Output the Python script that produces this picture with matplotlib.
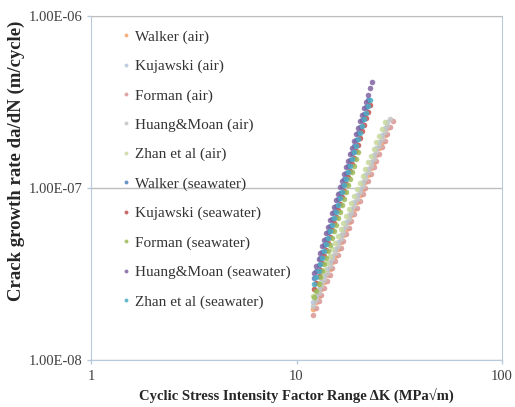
import matplotlib
matplotlib.use("Agg")
import matplotlib.pyplot as plt
from matplotlib.ticker import FixedLocator, NullLocator

plt.rcParams['font.family'] = ['Liberation Serif', 'DejaVu Serif']

#########################################
## STRESS INTENSITY RANGES (MPa sqrt m) ##
#########################################
# steeper band (seawater curves)
kSea = [12.2, 12.5, 12.8, 13.0, 13.3, 13.6, 13.9, 14.3, 14.6, 14.9,
        15.2, 15.6, 15.9, 16.3, 16.7, 17.0, 17.4, 17.8, 18.2, 18.6,
        19.1, 19.5, 19.9, 20.4, 20.8, 21.3, 21.8, 22.3, 22.8, 23.3]
# flatter band (air curves)
kAir = [12.0, 12.4, 12.8, 13.2, 13.6, 14.0, 14.5, 14.9, 15.4, 15.9,
        16.4, 16.9, 17.4, 18.0, 18.5, 19.1, 19.7, 20.3, 21.0, 21.6,
        22.3, 23.0, 23.7, 24.5, 25.2, 26.0, 26.9, 27.7, 28.6, 29.5]

##############################################
## CRACK GROWTH RATES, in units of 1e-8 m/cyc ##
##############################################
walkerAir = [1.98, 2.16, 2.37, 2.59, 2.83, 3.10, 3.39, 3.70, 4.05, 4.43,
             4.85, 5.30, 5.80, 6.34, 6.93, 7.59, 8.31, 9.08, 9.93, 10.86,
             11.88, 12.99, 14.21, 15.54, 17.00, 18.60, 20.34, 22.25]
kujawskiAir = [2.16, 2.36, 2.58, 2.83, 3.09, 3.39, 3.71, 4.05, 4.43, 4.84,
               5.30, 5.79, 6.34, 6.93, 7.58, 8.30, 9.07, 9.92, 10.84, 11.87,
               12.98, 14.20, 15.53, 16.98, 18.57, 20.32, 22.22, 24.31]
formanAir = [1.83, 2.00, 2.19, 2.40, 2.62, 2.87, 3.14, 3.43, 3.75, 4.10,
             4.49, 4.91, 5.37, 5.87, 6.42, 7.03, 7.69, 8.41, 9.19, 10.06,
             11.00, 12.03, 13.16, 14.39, 15.74, 17.22, 18.83, 20.60, 22.53, 24.65]
huangAir = [2.05, 2.24, 2.45, 2.69, 2.93, 3.21, 3.52, 3.84, 4.20, 4.59,
            5.03, 5.50, 6.01, 6.57, 7.19, 7.87, 8.61, 9.42, 10.29, 11.27,
            12.32, 13.47, 14.74, 16.12, 17.63, 19.29, 21.09, 23.07, 25.23]
zhanAir = [2.34, 2.56, 2.80, 3.07, 3.35, 3.67, 4.02, 4.39, 4.80, 5.25,
           5.75, 6.28, 6.87, 7.51, 8.22, 9.00, 9.84, 10.76, 11.76, 12.88,
           14.08, 15.40, 16.84, 18.42, 20.15, 22.04, 24.10]

walkerSea = [2.99, 3.27, 3.57, 3.90, 4.26, 4.65, 5.08, 5.54, 6.05, 6.61,
             7.23, 7.89, 8.61, 9.40, 10.28, 11.22, 12.25, 13.38, 14.61, 15.96,
             17.43, 19.04, 20.79, 22.70, 24.79, 27.07, 29.57, 32.29]
kujawskiSea = [2.58, 2.82, 3.07, 3.35, 3.66, 4.00, 4.37, 4.77, 5.21, 5.69,
               6.22, 6.78, 7.41, 8.09, 8.84, 9.65, 10.54, 11.51, 12.57, 13.73,
               14.99, 16.38, 17.88, 19.53, 21.33, 23.29, 25.44, 27.78, 30.34]
formanSea = [2.32, 2.53, 2.76, 3.02, 3.30, 3.60, 3.93, 4.29, 4.69, 5.12,
             5.59, 6.11, 6.67, 7.28, 7.96, 8.68, 9.48, 10.36, 11.31, 12.36,
             13.49, 14.74, 16.09]
huangSea = [3.22, 3.52, 3.84, 4.19, 4.58, 5.00, 5.46, 5.96, 6.51, 7.11,
            7.77, 8.48, 9.26, 10.11, 11.05, 12.06, 13.17, 14.39, 15.71, 17.16,
            18.74, 20.47, 22.35, 24.41, 26.66, 29.11, 31.80, 34.72, 37.92, 41.42]
zhanSea = [2.77, 3.03, 3.30, 3.60, 3.94, 4.30, 4.70, 5.13, 5.60, 6.11,
           6.68, 7.29, 7.96, 8.69, 9.50, 10.37, 11.33, 12.38, 13.51, 14.76,
           16.12, 17.60, 19.22, 20.99, 22.93, 25.03, 27.35, 29.86, 32.61]

seriesNames = ["Walker (air)", "Kujawski (air)", "Forman (air)", "Huang&Moan (air)",
               "Zhan et al (air)", "Walker (seawater)", "Kujawski (seawater)",
               "Forman (seawater)", "Huang&Moan (seawater)", "Zhan et al (seawater)"]
seriesData = [(kAir, walkerAir), (kAir, kujawskiAir), (kAir, formanAir),
              (kAir, huangAir), (kAir, zhanAir), (kSea, walkerSea),
              (kSea, kujawskiSea), (kSea, formanSea), (kSea, huangSea),
              (kSea, zhanSea)]
seriesColors = ["#F5A26A", "#B4C4DC", "#D99694", "#C4C4C4", "#C9D99E",
                "#4F81BD", "#C0504D", "#9BBB59", "#8064A2", "#4BACC6"]

######################
## DRAWING THE CHART ##
######################
fig = plt.figure(figsize=(5.15, 4.07), dpi=100)
ax = fig.add_axes([0.1767, 0.1155, 0.7981, 0.8452])

for name, (k, rate), col in zip(seriesNames, seriesData, seriesColors):
    ax.plot(k[:len(rate)], [r * 1e-8 for r in rate], linestyle="none", marker="o",
            markersize=4.0, markeredgewidth=0, color=col, alpha=0.85, label=name)

ax.set_xscale("log")
ax.set_yscale("log")
ax.set_xlim(1, 100)
ax.set_ylim(1e-8, 1e-6)

ax.xaxis.set_major_locator(FixedLocator([1, 10, 100]))
ax.xaxis.set_minor_locator(NullLocator())
ax.yaxis.set_major_locator(FixedLocator([1e-8, 1e-7, 1e-6]))
ax.yaxis.set_minor_locator(NullLocator())
ax.set_xticklabels(["1", "10", "100"])
ax.set_yticklabels(["1.00E-08", "1.00E-07", "1.00E-06"])
ax.tick_params(axis="both", labelsize=10.5, labelcolor="#404040", color="#B9C9DC",
               length=3, width=1)
ax.tick_params(axis="x", pad=4)

ax.grid(axis="y", color="#BEBEBE", linewidth=1)
for side in ["left", "bottom", "right"]:
    ax.spines[side].set_color("#B9C9DC")
ax.spines["top"].set_color("#BEBEBE")

ax.set_xlabel("Cyclic Stress Intensity Factor Range \u0394K (MPa\u221am)",
              fontsize=10.5, fontweight="bold", color="#262626", labelpad=4)
ax.set_ylabel("Crack growth rate da/dN (m/cycle)", fontsize=13.5,
              fontweight="bold", color="#262626", labelpad=7)
ax.yaxis.set_label_coords(-0.16, 0.578)

leg = ax.legend(loc="upper left", bbox_to_anchor=(0.043, 1.0), frameon=False,
                fontsize=11, labelspacing=1.02, handlelength=0.5, handletextpad=0.3,
                markerscale=0.7)
for t in leg.get_texts():
    t.set_color("#333333")

fig.savefig("out.png", dpi=100)
